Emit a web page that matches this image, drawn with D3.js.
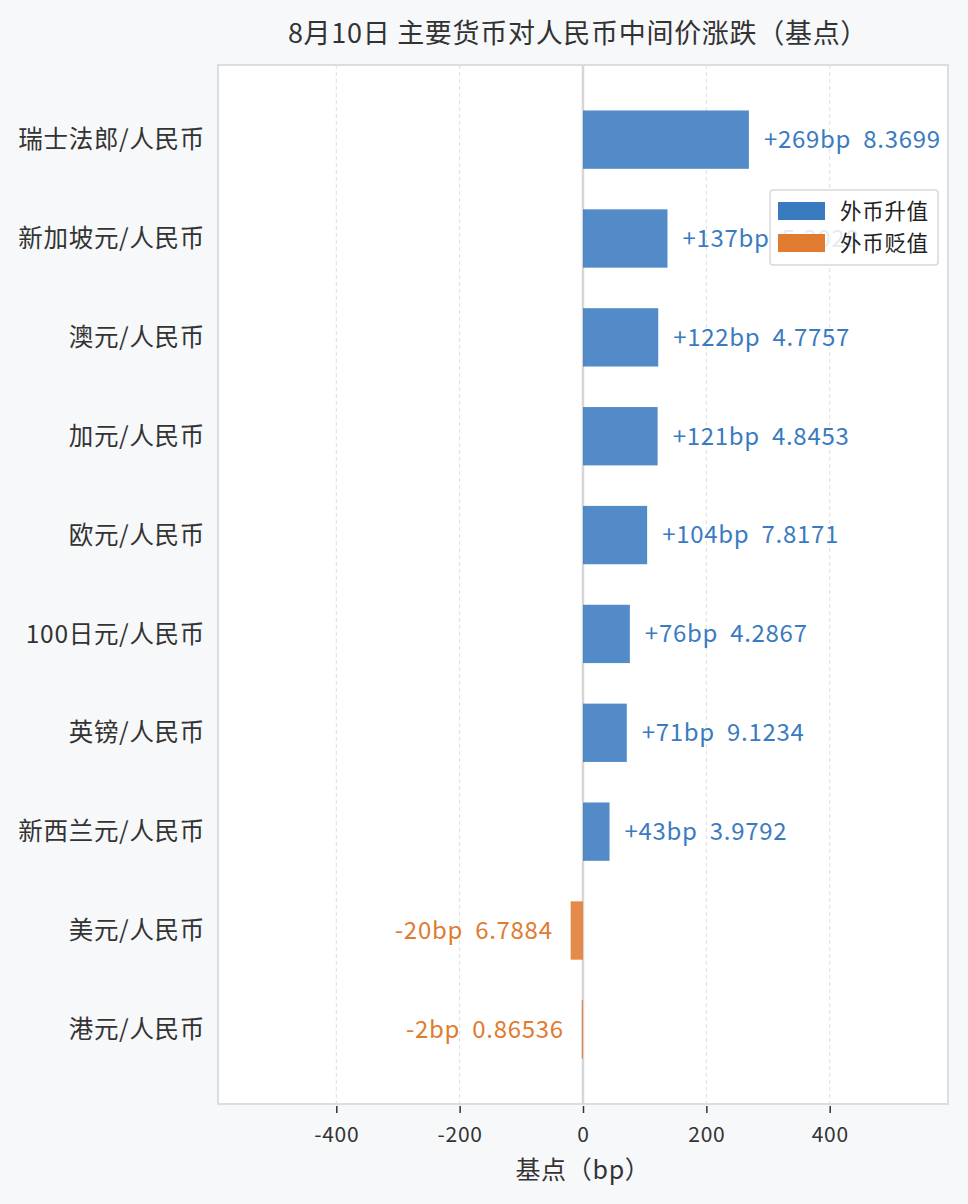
<!DOCTYPE html>
<html>
<head>
<meta charset="utf-8">
<script src="https://cdn.jsdelivr.net/npm/d3@7"></script>
<style>
    body { margin: 0; background: #f7f8fa; font-family: "Noto Sans CJK SC", "Noto Sans", sans-serif; }
    #chart { width: 968px; height: 1204px; }
    text { letter-spacing: 0.7px; }
</style>
</head>
<body>
<div id="chart"></div>
<script>
// data
const pairs = ["瑞士法郎/人民币", "新加坡元/人民币", "澳元/人民币", "加元/人民币", "欧元/人民币",
    "100日元/人民币", "英镑/人民币", "新西兰元/人民币", "美元/人民币", "港元/人民币"];
const changeBp = [269, 137, 122, 121, 104, 76, 71, 43, -20, -2];
const midRates = ["8.3699", "5.3028", "4.7757", "4.8453", "7.8171", "4.2867", "9.1234", "3.9792", "6.7884", "0.86536"];
const xTicks = [-400, -200, 0, 200, 400];
const legendNames = ["外币升值", "外币贬值"];

const UP = "#3a7bc0", DOWN = "#e07b30";

const data = pairs.map((p, i) => ({ pair: p, bp: changeBp[i], rate: midRates[i] }));

const W = 968, H = 1204;
const margin = { top: 65, right: 20, bottom: 100, left: 218 };
const width = W - margin.left - margin.right;
const height = H - margin.top - margin.bottom;

const svg = d3.select("#chart").append("svg")
    .attr("width", W).attr("height", H);

const g = svg.append("g")
    .attr("transform", `translate(${margin.left},${margin.top})`);

const maxAbs = d3.max(data, d => Math.abs(d.bp)) * 2.2;
const x = d3.scaleLinear().domain([-maxAbs, maxAbs]).range([0, width]);
const y = d3.scaleBand().domain(pairs).range([0, height])
    .paddingInner(0.41).paddingOuter(0.46);

// plot background
g.append("rect")
    .attr("width", width).attr("height", height)
    .attr("fill", "#fff")
    .attr("stroke", "#dcdde0").attr("stroke-width", 2);

// grid
g.selectAll(".grid").data(xTicks.filter(t => t !== 0)).enter()
    .append("line")
    .attr("class", "grid")
    .attr("x1", d => x(d)).attr("x2", d => x(d))
    .attr("y1", 0).attr("y2", height)
    .attr("stroke", "#dedede").attr("stroke-dasharray", "4,3").attr("stroke-width", 1);

g.append("line")
    .attr("x1", x(0)).attr("x2", x(0))
    .attr("y1", 0).attr("y2", height)
    .attr("stroke", "#d6d6d6").attr("stroke-width", 2.5);

// bars
g.selectAll(".bar").data(data).enter()
    .append("rect")
    .attr("class", "bar")
    .attr("x", d => x(Math.min(0, d.bp)))
    .attr("y", d => y(d.pair))
    .attr("width", d => Math.abs(x(d.bp) - x(0)))
    .attr("height", y.bandwidth())
    .attr("fill", d => d.bp >= 0 ? UP : DOWN)
    .attr("fill-opacity", 0.88);

// value labels
g.selectAll(".val").data(data).enter()
    .append("text")
    .attr("class", "val")
    .attr("x", d => d.bp >= 0 ? x(d.bp) + 15 : x(d.bp) - 18)
    .attr("y", d => y(d.pair) + y.bandwidth() / 2)
    .attr("dy", "0.35em")
    .attr("text-anchor", d => d.bp >= 0 ? "start" : "end")
    .attr("font-size", "24px")
    .attr("fill", d => d.bp >= 0 ? UP : DOWN)
    .attr("xml:space", "preserve")
    .text(d => `${d.bp > 0 ? "+" : ""}${d.bp}bp  ${d.rate}`);

// category labels
g.selectAll(".cat").data(data).enter()
    .append("text")
    .attr("class", "cat")
    .attr("x", -13)
    .attr("y", d => y(d.pair) + y.bandwidth() / 2)
    .attr("dy", "0.35em")
    .attr("text-anchor", "end")
    .attr("font-size", "24.5px")
    .attr("fill", "#333")
    .text(d => d.pair);

// x axis
const xAxis = d3.axisBottom(x).tickValues(xTicks).tickSize(7).tickPadding(14)
    .tickFormat(d => String(d));
const xAxisGroup = g.append("g")
    .attr("transform", `translate(0,${height + 2})`)
    .call(xAxis);
xAxisGroup.select(".domain").remove();
xAxisGroup.selectAll("line").attr("stroke", "#333").attr("stroke-width", 1.5);
xAxisGroup.selectAll("text")
    .attr("font-size", "21px")
    .attr("fill", "#333")
    .attr("font-family", "Noto Sans CJK SC, Noto Sans, sans-serif");

g.append("text")
    .attr("x", width / 2).attr("y", height + 75)
    .attr("text-anchor", "middle")
    .attr("font-size", "25px")
    .attr("fill", "#333")
    .text("基点（bp）");

// title
svg.append("text")
    .attr("x", margin.left + width / 2 - 5).attr("y", 43)
    .attr("text-anchor", "middle")
    .attr("font-size", "27px")
    .attr("letter-spacing", "0.9px")
    .attr("fill", "#333")
    .text("8月10日 主要货币对人民币中间价涨跌（基点）");

// legend
const legend = g.append("g")
    .attr("transform", `translate(${width - 178},${125})`);
legend.append("rect")
    .attr("width", 168).attr("height", 75).attr("rx", 3)
    .attr("fill", "#fff").attr("fill-opacity", 0.85)
    .attr("stroke", "#d8d8d8").attr("stroke-width", 1.5);
legendNames.forEach((name, i) => {
    legend.append("rect")
        .attr("x", 8).attr("y", 12 + i * 32)
        .attr("width", 47).attr("height", 18)
        .attr("fill", i === 0 ? UP : DOWN);
    legend.append("text")
        .attr("x", 70).attr("y", 21 + i * 32)
        .attr("dy", "0.35em")
        .attr("font-size", "21.5px")
        .attr("fill", "#222")
        .text(name);
});
</script>
</body>
</html>
